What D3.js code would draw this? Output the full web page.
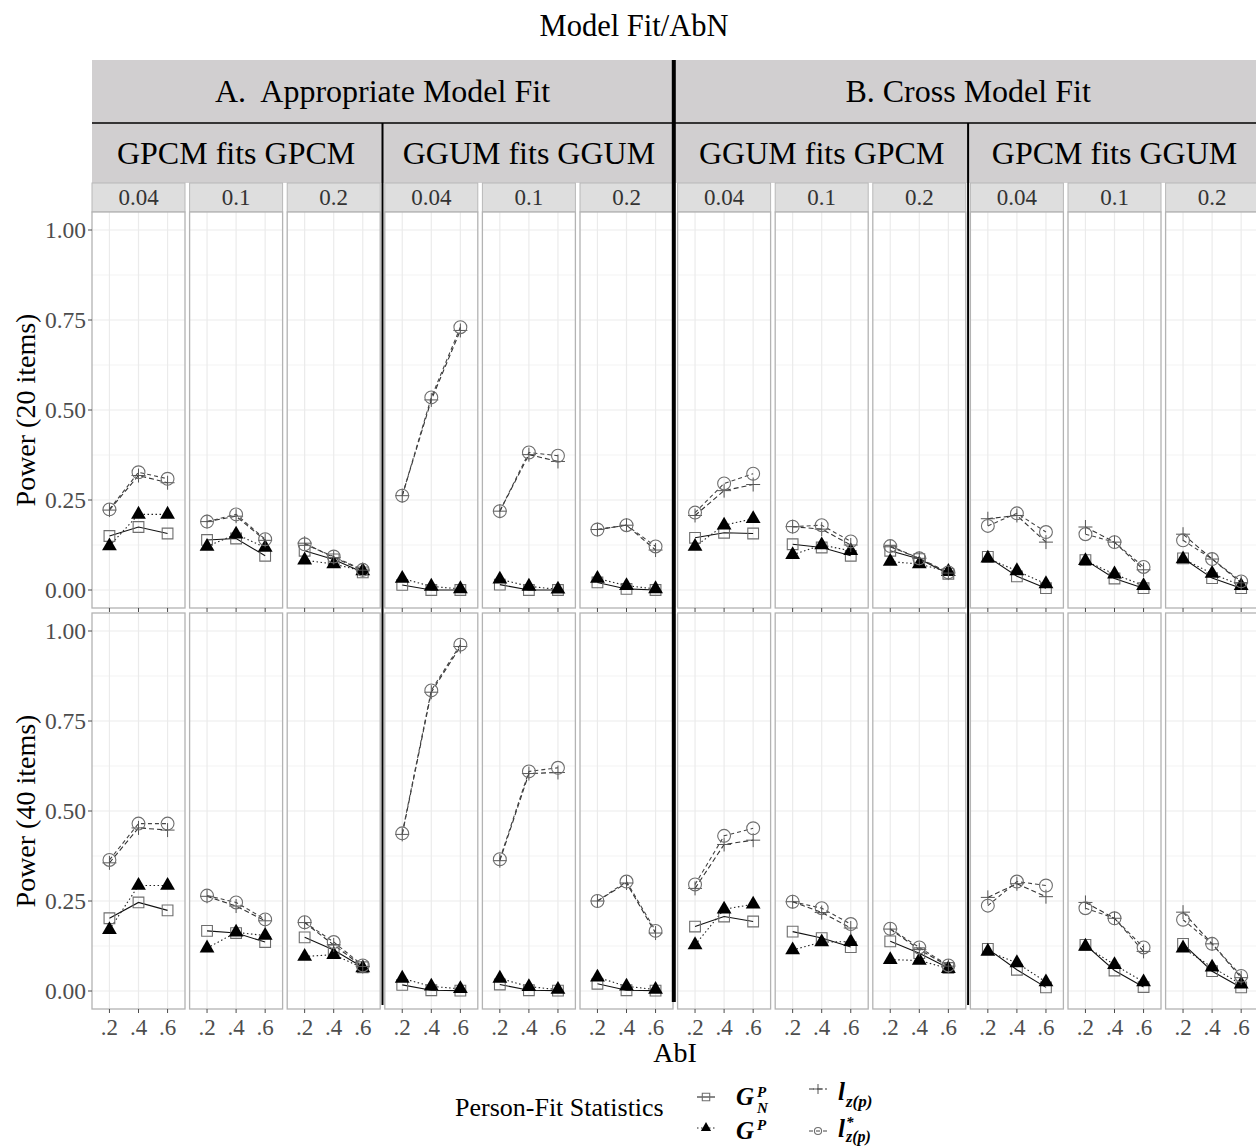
<!DOCTYPE html>
<html>
<head>
<meta charset="utf-8">
<script src="https://cdn.jsdelivr.net/npm/d3@7"></script>
<style>
  body { margin: 0; background: #fff; }
  svg text { font-family: "Liberation Serif", "Times New Roman", serif; }
</style>
</head>
<body>
<div id="chart"></div>
<script>
// ---- values ----
var abi = ['.2', '.4', '.6'];
var groups = ['A.  Appropriate Model Fit', 'B. Cross Model Fit'];
var fits = ['GPCM fits GPCM', 'GGUM fits GGUM', 'GGUM fits GPCM', 'GPCM fits GGUM'];
var abn = ['0.04', '0.1', '0.2'];
var yTicks = [0, 0.25, 0.5, 0.75, 1];
var yMinor = [0.125, 0.375, 0.625, 0.875];
var rowTitles = ['Power (20 items)', 'Power (40 items)'];

// one triplet (.2 .4 .6) per panel, 12 panels left to right
// 20 items
var gnp20 = [[0.150,0.175,0.157],[0.139,0.143,0.095],[0.109,0.085,0.049],
             [0.014,0.000,0.000],[0.015,0.000,0.000],[0.021,0.003,0.000],
             [0.145,0.159,0.157],[0.127,0.118,0.095],[0.109,0.086,0.045],
             [0.092,0.038,0.005],[0.083,0.032,0.005],[0.088,0.033,0.005]];
var gp20  = [[0.122,0.210,0.210],[0.121,0.155,0.118],[0.083,0.072,0.053],
             [0.032,0.010,0.003],[0.030,0.010,0.002],[0.032,0.012,0.003],
             [0.121,0.180,0.198],[0.098,0.125,0.109],[0.079,0.072,0.051],
             [0.088,0.053,0.017],[0.081,0.044,0.012],[0.086,0.046,0.012]];
var lz20  = [[0.222,0.318,0.298],[0.190,0.205,0.138],[0.130,0.090,0.055],
             [0.262,0.528,0.721],[0.219,0.376,0.357],[0.168,0.180,0.111],
             [0.207,0.276,0.293],[0.176,0.169,0.125],[0.120,0.088,0.047],
             [0.198,0.207,0.133],[0.175,0.133,0.056],[0.155,0.086,0.020]];
var lzs20 = [[0.224,0.327,0.309],[0.190,0.210,0.141],[0.127,0.093,0.056],
             [0.262,0.535,0.730],[0.219,0.382,0.373],[0.168,0.180,0.121],
             [0.215,0.296,0.323],[0.176,0.180,0.135],[0.122,0.088,0.049],
             [0.178,0.213,0.161],[0.155,0.133,0.064],[0.138,0.086,0.024]];
// 40 items
var gnp40 = [[0.202,0.246,0.224],[0.167,0.161,0.136],[0.149,0.114,0.066],
             [0.017,0.002,0.001],[0.018,0.002,0.001],[0.020,0.002,0.001],
             [0.179,0.207,0.193],[0.165,0.147,0.122],[0.138,0.105,0.064],
             [0.117,0.059,0.010],[0.128,0.057,0.011],[0.131,0.055,0.010]];
var gp40  = [[0.170,0.293,0.293],[0.119,0.163,0.154],[0.096,0.101,0.064],
             [0.035,0.013,0.006],[0.035,0.012,0.004],[0.038,0.013,0.004],
             [0.128,0.227,0.241],[0.114,0.136,0.137],[0.087,0.085,0.062],
             [0.110,0.078,0.025],[0.124,0.073,0.025],[0.119,0.066,0.019]];
var lz40  = [[0.356,0.453,0.447],[0.263,0.236,0.195],[0.190,0.128,0.068],
             [0.435,0.830,0.957],[0.362,0.604,0.607],[0.250,0.300,0.161],
             [0.285,0.407,0.419],[0.248,0.218,0.175],[0.172,0.115,0.069],
             [0.260,0.298,0.262],[0.246,0.202,0.110],[0.219,0.131,0.037]];
var lzs40 = [[0.364,0.465,0.465],[0.265,0.246,0.199],[0.191,0.136,0.071],
             [0.438,0.835,0.962],[0.366,0.610,0.620],[0.250,0.304,0.167],
             [0.296,0.431,0.452],[0.248,0.230,0.186],[0.173,0.121,0.071],
             [0.237,0.304,0.293],[0.230,0.202,0.121],[0.198,0.131,0.042]];

// ---- layout ----
var W = 1256, H = 1148;
var left0 = 92, step = 97.6, pw = 93;
var rowTop = [212, 613], rowBot = [608, 1009];
var nPanels = 12;

var svg = d3.select('#chart').append('svg')
  .attr('width', W).attr('height', H);

var x = d3.scalePoint().domain(abi).range([0, pw]).padding(0.6);
var yS = rowTop.map(function(t, i) {
  return d3.scaleLinear().domain([-0.05, 1.05]).range([rowBot[i], t]);
});

function px(c) { return left0 + c * step; }

var plus = function(s) { return 'M' + (-s) + ',0H' + s + 'M0,' + (-s) + 'V' + s; };

var series = [
  { rows: [gnp20, gnp40], dash: null, line: '#111', draw: function(sel, k) {
      sel.append('path').attr('d', d3.symbol().type(d3.symbolSquare).size(k ? 55 : 115))
        .attr('fill', 'none').attr('stroke', '#6e6e6e').attr('stroke-width', 1.1); } },
  { rows: [gp20, gp40], dash: '1.5,2.5', line: '#222', draw: function(sel, k) {
      sel.append('path').attr('d', d3.symbol().type(d3.symbolTriangle).size(k ? 45 : 95))
        .attr('fill', '#000'); } },
  { rows: [lz20, lz40], dash: '5,3', line: '#333', draw: function(sel, k) {
      sel.append('path').attr('d', plus(k ? 5 : 7))
        .attr('fill', 'none').attr('stroke', '#555').attr('stroke-width', 1); } },
  { rows: [lzs20, lzs40], dash: '4,3', line: '#444', draw: function(sel, k) {
      sel.append('path').attr('d', d3.symbol().type(d3.symbolCircle).size(k ? 40 : 130))
        .attr('fill', 'none').attr('stroke', '#6e6e6e').attr('stroke-width', 1.1); } }
];

// title
svg.append('text').attr('x', 634).attr('y', 36).attr('text-anchor', 'middle')
  .style('font-size', '30.5px').text('Model Fit/AbN');

// strips
svg.append('rect').attr('x', left0).attr('y', 60).attr('width', W - left0).attr('height', 63)
  .attr('fill', '#d1cfd0');
svg.append('rect').attr('x', left0).attr('y', 123).attr('width', W - left0).attr('height', 60)
  .attr('fill', '#d1cfd0');

groups.forEach(function(g, i) {
  var a = px(i * 6), b = px(i * 6 + 5) + pw;
  svg.append('text').attr('x', (a + b) / 2).attr('y', 102).attr('text-anchor', 'middle')
    .style('font-size', '32px').style('white-space', 'pre').text(g);
});
fits.forEach(function(f, i) {
  var a = px(i * 3), b = px(i * 3 + 2) + pw;
  svg.append('text').attr('x', (a + b) / 2).attr('y', 164).attr('text-anchor', 'middle')
    .style('font-size', '32px').text(f);
});

// panels
for (var r = 0; r < 2; r++) {
  var y = yS[r];
  for (var c = 0; c < nPanels; c++) {
    var g = svg.append('g').attr('transform', 'translate(' + px(c) + ',0)');

    if (r === 0) {
      g.append('rect').attr('x', 0).attr('y', 183).attr('width', pw).attr('height', 29)
        .attr('fill', '#dedede').attr('stroke', '#b8b8b8').attr('stroke-width', 1);
      g.append('text').attr('x', pw / 2).attr('y', 205).attr('text-anchor', 'middle')
        .attr('fill', '#333').style('font-size', '23px').text(abn[c % 3]);
    }

    g.append('rect').attr('x', 0).attr('y', rowTop[r]).attr('width', pw)
      .attr('height', rowBot[r] - rowTop[r]).attr('fill', '#fff');

    g.selectAll('.minor').data(yMinor).enter().append('line')
      .attr('x1', 0).attr('x2', pw)
      .attr('y1', function(d) { return y(d); }).attr('y2', function(d) { return y(d); })
      .attr('stroke', '#f3f3f3').attr('stroke-width', 1);
    g.selectAll('.major').data(yTicks).enter().append('line')
      .attr('x1', 0).attr('x2', pw)
      .attr('y1', function(d) { return y(d); }).attr('y2', function(d) { return y(d); })
      .attr('stroke', '#ebebeb').attr('stroke-width', 1.2);
    g.selectAll('.vgrid').data(abi).enter().append('line')
      .attr('x1', function(d) { return x(d); }).attr('x2', function(d) { return x(d); })
      .attr('y1', rowTop[r]).attr('y2', rowBot[r])
      .attr('stroke', '#ebebeb').attr('stroke-width', 1.2);

    // lines first, then points
    series.forEach(function(s) {
      var vals = s.rows[r][c];
      g.append('path').datum(vals)
        .attr('d', d3.line().x(function(d, i) { return x(abi[i]); }).y(function(d) { return y(d); }))
        .attr('fill', 'none').attr('stroke', s.line).attr('stroke-width', 1.1)
        .attr('stroke-dasharray', s.dash);
    });
    series.forEach(function(s) {
      s.rows[r][c].forEach(function(v, i) {
        var m = g.append('g').attr('transform', 'translate(' + x(abi[i]) + ',' + y(v) + ')');
        s.draw(m, false);
      });
    });

    g.append('rect').attr('x', 0).attr('y', rowTop[r]).attr('width', pw)
      .attr('height', rowBot[r] - rowTop[r]).attr('fill', 'none')
      .attr('stroke', '#b3b3b3').attr('stroke-width', 1.3);

    // x ticks on bottom of every panel
    g.selectAll('.xt').data(abi).enter().append('line')
      .attr('x1', function(d) { return x(d); }).attr('x2', function(d) { return x(d); })
      .attr('y1', rowBot[r]).attr('y2', rowBot[r] + 4)
      .attr('stroke', '#4d4d4d').attr('stroke-width', 1);
    if (r === 1) {
      g.selectAll('.xl').data(abi).enter().append('text')
        .attr('x', function(d) { return x(d); }).attr('y', 1035)
        .attr('text-anchor', 'middle').attr('fill', '#4d4d4d')
        .style('font-size', '23px').text(function(d) { return d; });
    }
  }

  // y axis
  var ax = svg.append('g').attr('transform', 'translate(' + left0 + ',0)');
  ax.selectAll('line').data(yTicks).enter().append('line')
    .attr('x1', -4).attr('x2', 0)
    .attr('y1', function(d) { return y(d); }).attr('y2', function(d) { return y(d); })
    .attr('stroke', '#4d4d4d');
  ax.selectAll('text').data(yTicks).enter().append('text')
    .attr('x', -6).attr('y', function(d) { return y(d); }).attr('dy', '0.35em')
    .attr('text-anchor', 'end').attr('fill', '#4d4d4d').style('font-size', '23.5px')
    .text(function(d) { return d3.format('.2f')(d); });

  svg.append('text')
    .attr('transform', 'translate(35,' + ((rowTop[r] + rowBot[r]) / 2) + ') rotate(-90)')
    .attr('text-anchor', 'middle').style('font-size', '28px').text(rowTitles[r]);
}

// separators
svg.append('line').attr('x1', left0).attr('x2', W).attr('y1', 123).attr('y2', 123)
  .attr('stroke', '#000').attr('stroke-width', 1.5);
[3, 9].forEach(function(c) {
  var xm = (px(c - 1) + pw + px(c)) / 2;
  svg.append('line').attr('x1', xm).attr('x2', xm).attr('y1', 123).attr('y2', 1005)
    .attr('stroke', '#000').attr('stroke-width', 2);
});
var xt = (px(5) + pw + px(6)) / 2 - 1.5;
svg.append('line').attr('x1', xt).attr('x2', xt).attr('y1', 60).attr('y2', 1002)
  .attr('stroke', '#000').attr('stroke-width', 4);

// x axis title
svg.append('text').attr('x', 675).attr('y', 1062).attr('text-anchor', 'middle')
  .style('font-size', '28px').text('AbI');

// legend
svg.append('text').attr('x', 455).attr('y', 1116).style('font-size', '26px')
  .text('Person-Fit Statistics');

var keys = [
  { s: series[0], x: 706, y: 1097 },
  { s: series[1], x: 706, y: 1128 },
  { s: series[2], x: 818, y: 1089 },
  { s: series[3], x: 818, y: 1131 }
];
keys.forEach(function(k) {
  var kg = svg.append('g').attr('transform', 'translate(' + k.x + ',' + k.y + ')');
  kg.append('line').attr('x1', -9).attr('x2', 9).attr('y1', 0).attr('y2', 0)
    .attr('stroke', k.s.line).attr('stroke-width', 1).attr('stroke-dasharray', k.s.dash);
  k.s.draw(kg, true);
});

function mathText(xx, yy, t, size) {
  return svg.append('text').attr('x', xx).attr('y', yy)
    .style('font-size', size + 'px').style('font-style', 'italic').style('font-weight', 'bold')
    .text(t);
}
mathText(736, 1105, 'G', 25);
mathText(757, 1097, 'P', 15);
mathText(757, 1113, 'N', 15);
mathText(736, 1139, 'G', 25);
mathText(757, 1130, 'P', 15);
mathText(838, 1100, 'l', 25);
mathText(846, 1107, 'z(p)', 17);
mathText(838, 1137, 'l', 25);
mathText(846, 1127, '*', 15);
mathText(846, 1142, 'z(p)', 16);
</script>
</body>
</html>
